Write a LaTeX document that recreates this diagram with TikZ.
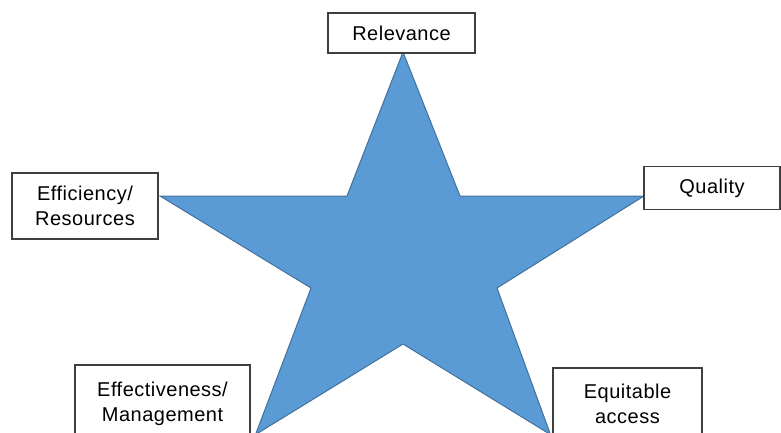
\documentclass[tikz,border=0pt]{standalone}
\usepackage{fontspec}
\setmainfont[LetterSpace=2.5]{Liberation Sans}
\definecolor{starfill}{HTML}{5B9BD5}
\definecolor{staredge}{HTML}{41719C}
\definecolor{boxedge}{HTML}{3F3F3F}
\begin{document}
\begin{tikzpicture}[x=1pt,y=-1pt,
  label box/.style={draw=boxedge, line width=1.3pt, fill=white, align=center,
    font=\fontsize{20}{25.5}\selectfont, inner sep=0pt},
  star shape/.style={fill=starfill, draw=staredge, line width=1pt, line join=miter}]
\useasboundingbox (0,0) rectangle (781,433);
\clip (0,0) rectangle (781,433);
% star vertices
\coordinate (top) at (403,52);
\coordinate (itr) at (460,196);
\coordinate (rt) at (644,196);
\coordinate (ir) at (497,288);
\coordinate (br) at (550.5,434.6);
\coordinate (ib) at (403,344);
\coordinate (bl) at (255.5,434.6);
\coordinate (il) at (311,288);
\coordinate (lt) at (160,196);
\coordinate (itl) at (347,196);
\draw[star shape] (top) -- (itr) -- (rt) -- (ir) -- (br) -- (ib) -- (bl) -- (il) -- (lt) -- (itl) -- cycle;
% labels
\node[label box, minimum width=147pt, minimum height=40pt] (relevance) at (401.5,33) {Relevance};
\node[label box, minimum width=136pt, minimum height=43pt] (quality) at (712,188) {Quality};
\node[label box, minimum width=146pt, minimum height=66pt] (efficiency) at (85,206) {Efficiency/\\Resources};
\node[label box, minimum width=175pt, minimum height=78pt] (effectiveness) at (162.5,404) {Effectiveness/\\Management};
\node[label box, minimum width=149pt, minimum height=72pt] (equitable) at (627.5,404) {Equitable\\access};
\end{tikzpicture}
\end{document}
